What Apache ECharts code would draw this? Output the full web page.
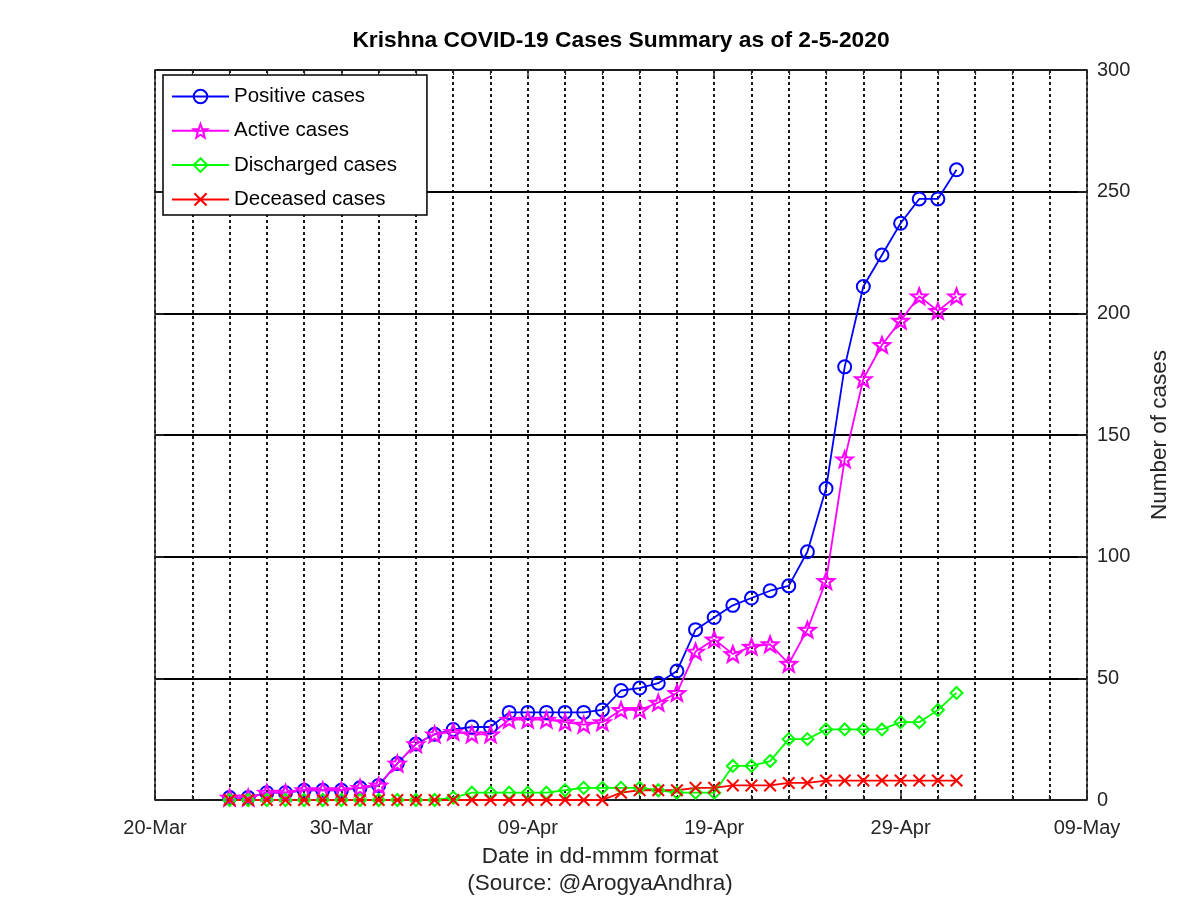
<!DOCTYPE html>
<html>
<head>
<meta charset="utf-8">
<title>Krishna COVID-19 Cases Summary</title>
<script src="https://cdn.jsdelivr.net/npm/echarts@6/dist/echarts.min.js"></script>
<style>
  html, body { margin: 0; padding: 0; background: #fff; }
  #chart { width: 1200px; height: 898px; }
</style>
</head>
<body>
<div id="chart"></div>
<script>
// daily report dates (24-Mar .. 02-May 2020)
const dates = [
  '2020-03-24', '2020-03-25', '2020-03-26', '2020-03-27', '2020-03-28', '2020-03-29', '2020-03-30', '2020-03-31',
  '2020-04-01', '2020-04-02', '2020-04-03', '2020-04-04', '2020-04-05', '2020-04-06', '2020-04-07', '2020-04-08',
  '2020-04-09', '2020-04-10', '2020-04-11', '2020-04-12', '2020-04-13', '2020-04-14', '2020-04-15', '2020-04-16',
  '2020-04-17', '2020-04-18', '2020-04-19', '2020-04-20', '2020-04-21', '2020-04-22', '2020-04-23', '2020-04-24',
  '2020-04-25', '2020-04-26', '2020-04-27', '2020-04-28', '2020-04-29', '2020-04-30', '2020-05-01', '2020-05-02'
];
const positive = [1, 1, 3, 3, 4, 4, 4, 5, 6, 15, 23, 27, 29, 30, 30, 36, 36, 36, 36, 36,
  37, 45, 46, 48, 53, 70, 75, 80, 83, 86, 88, 102, 128, 178, 211, 224, 237, 247, 247, 259];
const active = [1, 1, 3, 3, 4, 4, 4, 5, 6, 15, 23, 27, 28, 27, 27, 33, 33, 33, 32, 31,
  32, 37, 37, 40, 44, 61, 66, 60, 63, 64, 56, 70, 90, 140, 173, 187, 197, 207, 201, 207];
const discharged = [0, 0, 0, 0, 0, 0, 0, 0, 0, 0, 0, 0, 1, 3, 3, 3, 3, 3, 4, 5,
  5, 5, 5, 4, 3, 3, 3, 14, 14, 16, 25, 25, 29, 29, 29, 29, 32, 32, 37, 44];
const deceased = [0, 0, 0, 0, 0, 0, 0, 0, 0, 0, 0, 0, 0, 0, 0, 0, 0, 0, 0, 0,
  0, 3, 4, 4, 4, 5, 5, 6, 6, 6, 7, 7, 8, 8, 8, 8, 8, 8, 8, 8];
const xTickLabels = ['20-Mar', '30-Mar', '09-Apr', '19-Apr', '29-Apr', '09-May'];

const FONT = '"Liberation Sans", Arial, Helvetica, sans-serif';
const INK = '#262626';
const DAY = 86400000;
const origin = Date.parse('2020-03-20T00:00:00Z');
const dayOf = d => (Date.parse(d + 'T00:00:00Z') - origin) / DAY;
const pts = vals => dates.map((d, i) => [dayOf(d), vals[i]]);

// marker shapes
const starPath = (function () {
  let p = '';
  for (let k = 0; k < 10; k++) {
    const r = k % 2 ? 0.42 : 1;
    const a = Math.PI * (-0.5 + k / 5);
    p += (k ? 'L' : 'M') + (r * Math.cos(a)).toFixed(3) + ',' + (r * Math.sin(a)).toFixed(3);
  }
  return 'path://' + p + 'Z';
})();
const crossPath = 'path://M0,1.1L1.1,0L5,3.9L8.9,0L10,1.1L6.1,5L10,8.9L8.9,10L5,6.1L1.1,10L0,8.9L3.9,5Z';

const dotted = { color: '#000', width: 1.8, type: [3, 3] };

const chart = echarts.init(document.getElementById('chart'));

chart.setOption({
  backgroundColor: '#fff',
  animation: false,
  title: {
    text: 'Krishna COVID-19 Cases Summary as of 2-5-2020',
    left: 621,
    top: 29,
    padding: 0,
    textAlign: 'center',
    textStyle: { fontFamily: FONT, fontSize: 22.8, fontWeight: 'bold', color: '#000' }
  },
  grid: { left: 155, right: 113, top: 70, bottom: 98, containLabel: false, outerBoundsMode: 'none' },
  legend: {
    orient: 'vertical',
    left: 163,
    top: 75,
    padding: [11, 30, 5, 8],
    itemWidth: 57,
    itemHeight: 17,
    itemGap: 13.3,
    backgroundColor: '#fff',
    borderColor: '#000',
    borderWidth: 1.5,
    textStyle: { fontFamily: FONT, fontSize: 20.5, lineHeight: 20, color: '#000' },
    data: ['Positive cases', 'Active cases', 'Discharged cases', 'Deceased cases']
  },
  xAxis: [
    {
      type: 'value', min: 0, max: 50, interval: 10, position: 'bottom',
      axisLine: { show: true, onZero: false, lineStyle: { color: INK, width: 1.5 } },
      axisTick: { show: true, inside: true, length: 9, lineStyle: { color: INK, width: 1.5 } },
      minorTick: { show: true, splitNumber: 5, length: 5, lineStyle: { color: INK, width: 1.2 } },
      splitLine: { show: true, lineStyle: dotted },
      minorSplitLine: { show: true, lineStyle: dotted },
      axisLabel: {
        formatter: v => xTickLabels[Math.round(v / 10)],
        margin: 18, fontFamily: FONT, fontSize: 20, color: INK
      },
      name: 'Date in dd-mmm format\n(Source: @ArogyaAndhra)',
      nameLocation: 'middle',
      nameGap: 43,
      nameTextStyle: {
        fontFamily: FONT, fontSize: 22.5, lineHeight: 27, color: INK,
        padding: [0, 42, 0, 0]
      }
    },
    {
      type: 'value', min: 0, max: 50, interval: 10, position: 'top',
      axisLine: { show: true, onZero: false, lineStyle: { color: INK, width: 1.5 } },
      axisTick: { show: true, inside: true, length: 9, lineStyle: { color: INK, width: 1.5 } },
      minorTick: { show: true, splitNumber: 5, length: 5, lineStyle: { color: INK, width: 1.2 } },
      splitLine: { show: false },
      axisLabel: { show: false }
    }
  ],
  yAxis: [
    {
      type: 'value', min: 0, max: 300, interval: 50, position: 'right',
      axisLine: { show: true, onZero: false, lineStyle: { color: INK, width: 1.5 } },
      axisTick: { show: true, inside: true, length: 9, lineStyle: { color: INK, width: 1.5 } },
      splitLine: { show: true, lineStyle: { color: '#000', width: 1.8 } },
      axisLabel: { margin: 10, fontFamily: FONT, fontSize: 20, color: INK, padding: [8, 0, 0, 0] },
      name: 'Number of cases',
      nameLocation: 'middle',
      nameGap: 61,
      nameTextStyle: { fontFamily: FONT, fontSize: 22.5, color: INK }
    },
    {
      type: 'value', min: 0, max: 300, interval: 50, position: 'left',
      axisLine: { show: true, onZero: false, lineStyle: { color: INK, width: 1.5 } },
      axisTick: { show: true, inside: true, length: 9, lineStyle: { color: INK, width: 1.5 } },
      splitLine: { show: false },
      axisLabel: { show: false }
    }
  ],
  series: [
    {
      name: 'Positive cases', type: 'line', data: pts(positive),
      symbol: 'circle', symbolSize: 13,
      lineStyle: { color: '#0000ff', width: 1.8 },
      itemStyle: { color: 'rgba(0,0,0,0)', borderColor: '#0000ff', borderWidth: 2 }
    },
    {
      name: 'Active cases', type: 'line', data: pts(active),
      symbol: starPath, symbolSize: 16, symbolKeepAspect: true,
      lineStyle: { color: '#ff00ff', width: 1.8 },
      itemStyle: { color: 'rgba(0,0,0,0)', borderColor: '#ff00ff', borderWidth: 2.2 }
    },
    {
      name: 'Discharged cases', type: 'line', data: pts(discharged),
      symbol: 'diamond', symbolSize: 12,
      lineStyle: { color: '#00ff00', width: 1.8 },
      itemStyle: { color: 'rgba(0,0,0,0)', borderColor: '#00ff00', borderWidth: 2 }
    },
    {
      name: 'Deceased cases', type: 'line', data: pts(deceased),
      symbol: crossPath, symbolSize: 13,
      lineStyle: { color: '#ff0000', width: 1.8 },
      itemStyle: { color: '#ff0000', borderWidth: 0 }
    }
  ]
});
</script>
</body>
</html>
